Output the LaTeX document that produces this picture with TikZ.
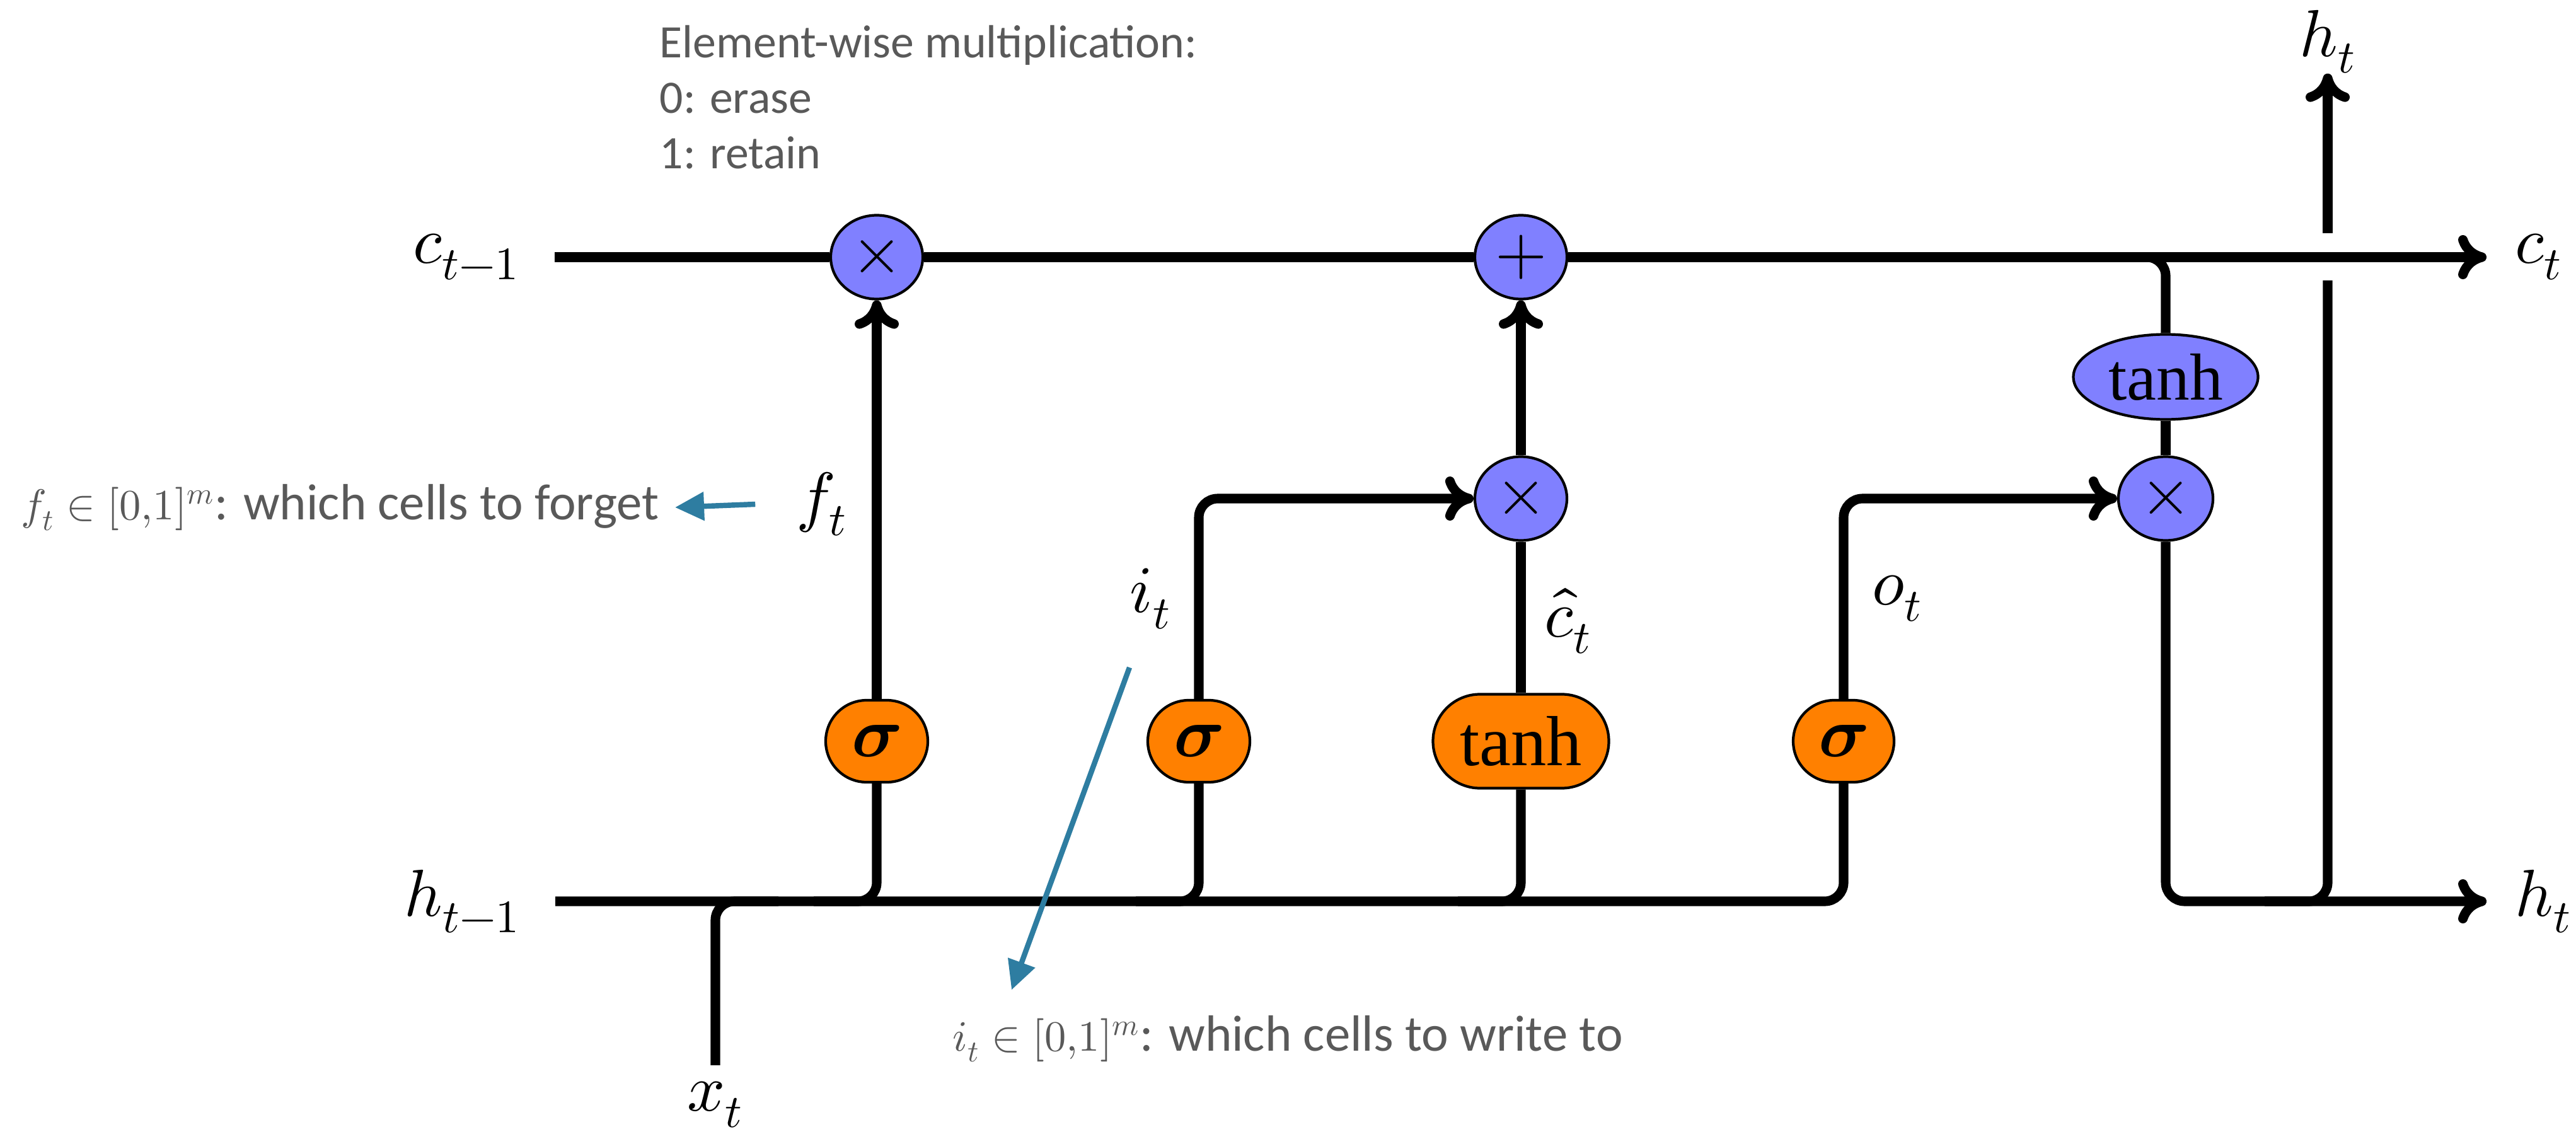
\documentclass[tikz,border=0pt]{standalone}
\usepackage{amsmath}
\usepackage{unicode-math}
\usepackage{xcolor}
\newfontfamily\notefont{Carlito}
\newfontfamily\termfont{Liberation Serif}
\usepackage{tikz}
\usetikzlibrary{arrows.meta,positioning,shapes.geometric,shapes.misc,calc}
\definecolor{opblue}{RGB}{128,128,255}
\definecolor{gateorange}{RGB}{255,128,0}
\definecolor{notegray}{RGB}{89,89,89}
\definecolor{noteblue}{RGB}{46,125,161}
\newcommand{\notemath}[1]{{\fontsize{19.5}{24}\selectfont$#1$}}

\begin{document}
\begin{tikzpicture}[x=1cm, y=-1cm,
    pointop/.style={ellipse, draw, line width=1.2pt, fill=opblue, inner sep=0pt,
        minimum width=1.46cm, minimum height=1.33cm, font=\fontsize{30}{36}\selectfont},
    gate/.style={rounded rectangle, draw, line width=1.2pt, fill=gateorange, inner sep=0pt,
        minimum width=1.62cm, minimum height=1.30cm, font=\fontsize{32}{38}\selectfont},
    lbl/.style={font=\fontsize{30}{36}\selectfont, inner sep=0pt},
    note/.style={font=\notefont\fontsize{23}{28}\selectfont, text=notegray, inner sep=0pt},
    legendtext/.style={font=\notefont\fontsize{21}{25}\selectfont, text=notegray, inner sep=0pt},
    flow/.style={line width=4.3pt, rounded corners=0.3cm},
    into/.style={flow, -{Computer Modern Rightarrow[length=4.5mm, width=7mm]}},
    notearrow/.style={noteblue, line width=2.4pt, -{Triangle[length=4.6mm, width=4.4mm]}}
]
    \useasboundingbox (0,0) rectangle (40.87,17.96);

    \coordinate (cin) at (8.80,4.08);
    \coordinate (hin) at (8.81,14.30);
    \coordinate (cend) at (39.45,4.08);
    \coordinate (hend) at (39.45,14.30);
    \coordinate (xbot) at (11.35,16.90);

    \node[pointop] (mulf) at (13.91,4.08) {$\times$};
    \node[pointop] (addc) at (24.13,4.08) {$+$};
    \node[pointop] (muli) at (24.13,7.91) {$\times$};
    \node[pointop, minimum width=1.5cm] (mulo) at (34.36,7.91) {$\times$};
    \node[pointop, minimum width=2.93cm, minimum height=1.35cm] (tanhc) at (34.36,5.98) {\termfont tanh};

    \node[gate] (sigf) at (13.91,11.76) {$\symbfit{\sigma}$};
    \node[gate] (sigi) at (19.02,11.76) {$\symbfit{\sigma}$};
    \node[gate, minimum width=2.79cm, minimum height=1.49cm] (tanhg) at (24.13,11.76) {\termfont tanh};
    \node[gate, minimum width=1.60cm] (sigo) at (29.25,11.76) {$\symbfit{\sigma}$};

    \node[lbl, left=0.55cm of cin] (cprev) {$c_{t-1}$};
    \node[lbl, left=0.55cm of hin] (hprev) {$h_{t-1}$};
    \node[lbl, right=0.45cm of cend] (cnext) {$c_t$};
    \node[lbl, right=0.45cm of hend] (hnext) {$h_t$};
    \node[lbl, below=0.25cm of xbot] (xin) {$x_t$};
    \node[lbl] (hup) at (36.93,0.66) {$h_t$};
    \node[lbl] (ft) at (13.04,8.0) {$f_t$};
    \node[lbl] (it) at (18.25,9.5) {$i_t$};
    \node[lbl, anchor=west] (gt) at (24.50,9.85) {$\hat{c}_t$};
    \node[lbl, anchor=west] (ot) at (29.70,9.5) {$o_t$};

    \node[legendtext, anchor=north west, align=left] (legend) at (10.46,0.40)
        {Element-wise multiplication:\\0: erase\\1: retain};
    \node[note, anchor=west] (forget) at (0.33,8.05) {\notemath{f_t\in[0{,}1]^m}: which cells to forget};
    \node[note, anchor=west] (write) at (15.11,16.48) {\notemath{i_t\in[0{,}1]^m}: which cells to write to};

    \draw[flow] (cin) -- (mulf.west);
    \draw[flow] (mulf.east) -- (addc.west);
    \draw[into] (addc.east) -- (cend);
    \draw[flow] ($(tanhc |- cin)+(-1,0)$) -- (tanhc |- cin) -- (tanhc.north);

    \draw[flow] (hin) -- (sigo |- hin) -- (sigo.south);
    \foreach \g in {sigf,sigi,tanhg}
        \draw[flow] ($(\g |- hin)+(-1,0)$) -- (\g |- hin) -- (\g.south);
    \draw[flow] (xbot) -- (xbot |- hin) -- ++(1,0);

    \draw[into] (sigf.north) -- (mulf.south);
    \draw[into] (sigi.north) -- (sigi |- muli) -- (muli.west);
    \draw[flow] (tanhg.north) -- (muli.south);
    \draw[into] (muli.north) -- (addc.south);
    \draw[into] (sigo.north) -- (sigo |- mulo) -- (mulo.west);
    \draw[flow] (tanhc.south) -- (mulo.north);
    \draw[into] (mulo.south) -- (mulo |- hin) -- (hend);
    \draw[flow] ($(hup |- hin)+(-1,0)$) -- (hup |- hin) -- ($(hup |- cin)+(0,0.37)$);
    \draw[into] ($(hup |- cin)+(0,-0.38)$) -- (hup.south);

    \draw[notearrow] ([xshift=-6.5mm]ft.west) -- ([xshift=2.5mm]forget.east);
    \draw[notearrow] ([xshift=-3.3mm,yshift=-6mm]it.south) -- ([xshift=9.4mm,yshift=4mm]write.north west);
\end{tikzpicture}
\end{document}
